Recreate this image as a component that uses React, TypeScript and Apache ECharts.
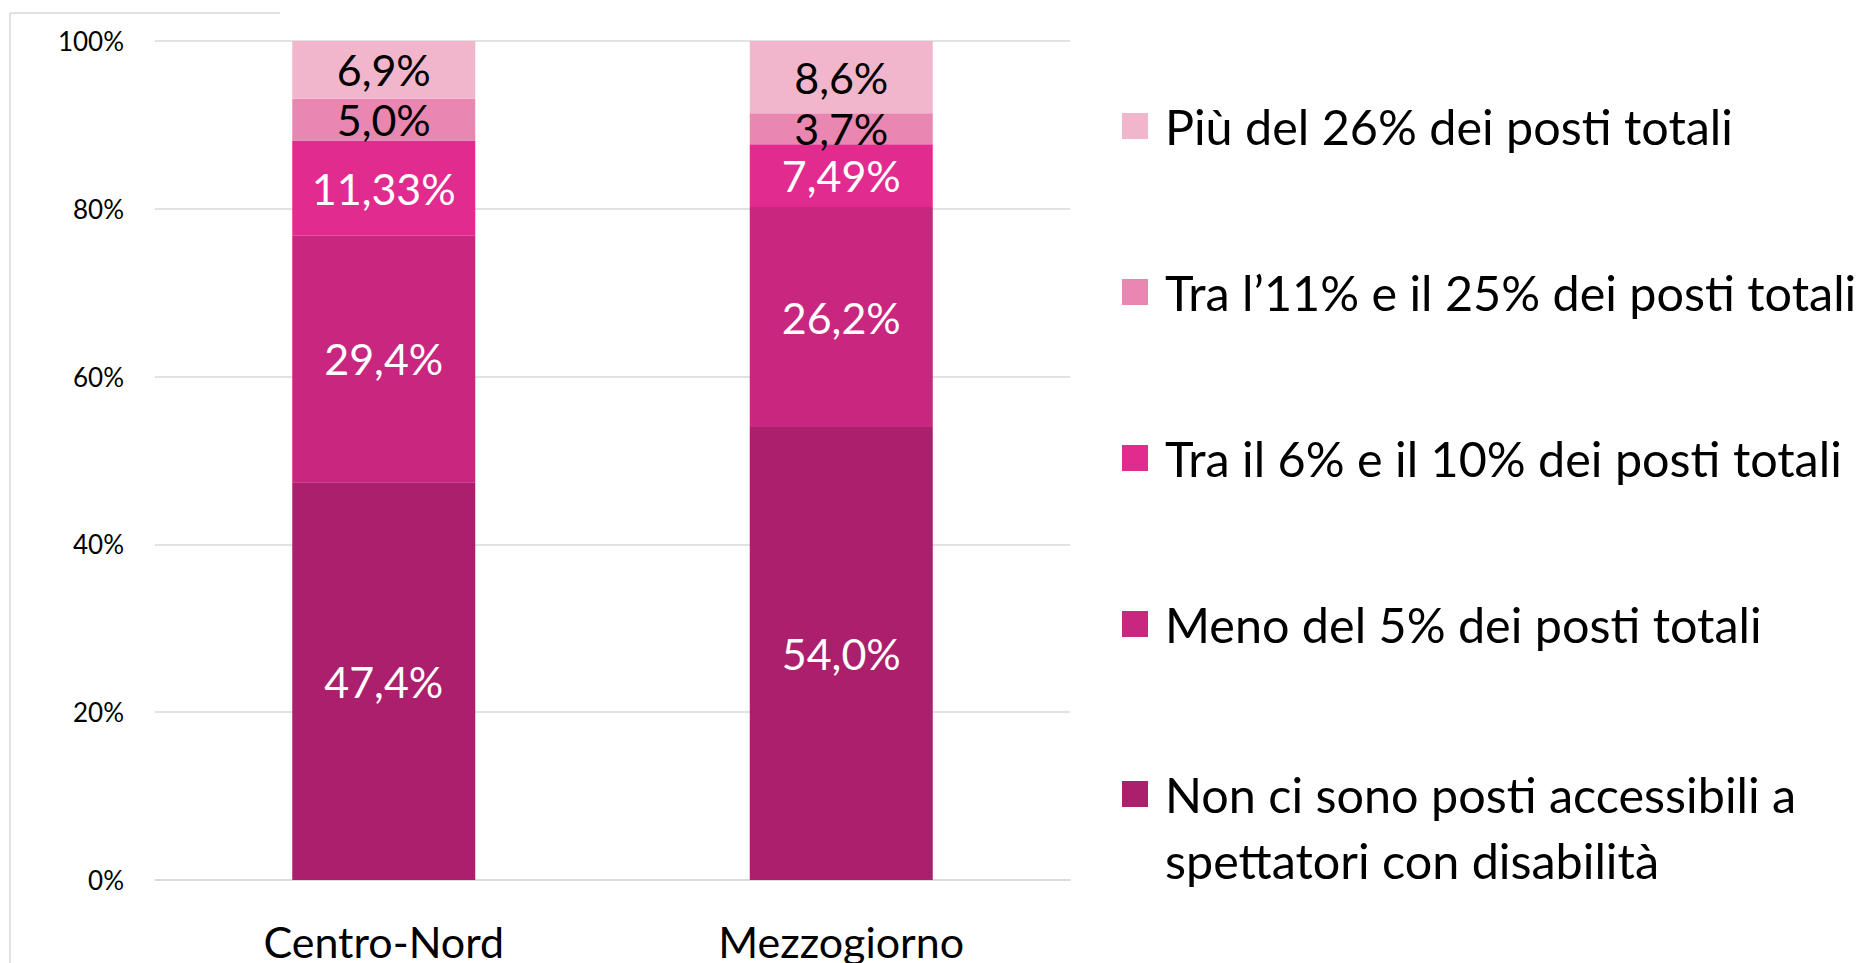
import React, { useEffect, useRef } from "react";
import * as echarts from "echarts";

const categories = ["Centro-Nord", "Mezzogiorno"];
const seriesNames = [
  "Non ci sono posti accessibili a spettatori con disabilità",
  "Meno del 5% dei posti totali",
  "Tra il 6% e il 10% dei posti totali",
  "Tra l’11% e il 25% dei posti totali",
  "Più del 26% dei posti totali",
];
const nonCiSono = [47.4, 54.0];
const menoDel5 = [29.4, 26.2];
const tra6e10 = [11.33, 7.49];
const tra11e25 = [5.0, 3.7];
const piuDel26 = [6.9, 8.6];
const yTicks = [0, 20, 40, 60, 80, 100];

const colors = ["#AC1F6C", "#C9267F", "#E22B8F", "#E987B1", "#F1B6CB"];
const labelColors = ["#FFFFFF", "#FFFFFF", "#FFFFFF", "#000000", "#000000"];
const FONT = "Lato, 'Noto Sans', sans-serif";

function fmt(v: number): string {
  let s = String(v);
  if (s.indexOf(".") < 0) s += ".0";
  return s.replace(".", ",") + "%";
}

export default function App() {
  const ref = useRef<HTMLDivElement>(null);
  useEffect(() => {
    if (!ref.current) return;
    const chart = echarts.init(ref.current, null, { renderer: "svg" });
    const values = [nonCiSono, menoDel5, tra6e10, tra11e25, piuDel26];
    const L = 66;
    chart.setOption({
      animation: false,
      backgroundColor: "#FFFFFF",
      grid: { left: 155, right: 800, top: 41, bottom: 82, containLabel: false },
      xAxis: {
        type: "category",
        data: categories,
        axisLine: { show: true, lineStyle: { color: "#D9D9D9", width: 1.5 } },
        axisTick: { show: false },
        axisLabel: { color: "#000", fontSize: 43, fontFamily: FONT, margin: 40 },
      },
      yAxis: {
        type: "value",
        min: yTicks[0],
        max: yTicks[yTicks.length - 1],
        interval: 20,
        axisLine: { show: false },
        axisTick: { show: false },
        splitLine: { lineStyle: { color: "#D9D9D9", width: 1.5 } },
        axisLabel: { color: "#000", fontSize: 26, fontFamily: FONT, margin: 31, formatter: "{value}%" },
      },
      legend: [
        {
          orient: "vertical",
          left: 1117,
          top: 88,
          itemWidth: 26,
          itemHeight: 26,
          itemGap: 166 - L,
          icon: "rect",
          selectedMode: false,
          textStyle: { fontSize: 48.5, fontFamily: FONT, color: "#000", lineHeight: L, padding: [0, 0, 0, 12] },
          data: [seriesNames[4], seriesNames[3], seriesNames[2], seriesNames[1]],
        },
        {
          orient: "vertical",
          left: 1117,
          top: 794 - 1.5 * L - 5,
          itemWidth: 26,
          itemHeight: 26,
          icon: "rect",
          selectedMode: false,
          formatter: () => " \nNon ci sono posti accessibili a\nspettatori con disabilità",
          textStyle: { fontSize: 48.5, fontFamily: FONT, color: "#000", lineHeight: L, padding: [0, 0, 0, 12] },
          data: [seriesNames[0]],
        },
      ],
      graphic: [
        { type: "line", shape: { x1: 10, y1: 13, x2: 280, y2: 13 }, style: { stroke: "#D9D9D9", lineWidth: 1.5 } },
        { type: "line", shape: { x1: 10, y1: 13, x2: 10, y2: 963 }, style: { stroke: "#D9D9D9", lineWidth: 1.5 } },
      ],
      series: values.map((vals, i) => ({
        name: seriesNames[i],
        type: "bar",
        stack: "total",
        data: vals,
        barWidth: "40%",
        itemStyle: { color: colors[i] },
        label: {
          show: true,
          position: "inside",
          color: labelColors[i],
          fontSize: 43,
          fontFamily: FONT,
          formatter: (p: any) => fmt(p.value),
        },
      })),
    });
    return () => chart.dispose();
  }, []);
  return <div ref={ref} style={{ position: "fixed", left: 0, top: 0, width: 1870, height: 963 }} />;
}
